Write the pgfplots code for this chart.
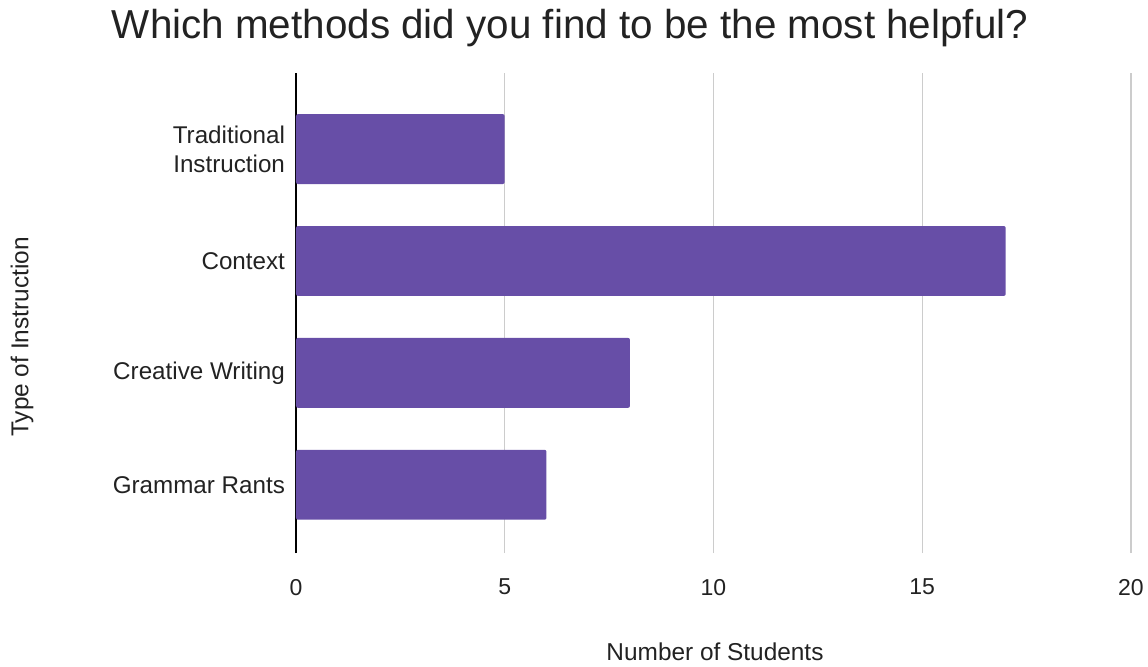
\documentclass[border=0pt]{standalone}
\usepackage{pgfplots}
\pgfplotsset{compat=1.18}
\usepackage{fontspec}
\setmainfont{Liberation Sans}
\definecolor{barpurple}{HTML}{674EA7}
\definecolor{txt}{HTML}{222222}
\definecolor{gridc}{HTML}{CCCCCC}
\begin{document}
\begin{tikzpicture}
\useasboundingbox (-148pt,-56.5pt) rectangle (426pt,276.5pt);
\begin{axis}[
  at={(0,0)}, anchor=south west,
  scale only axis,
  width=417.5pt, height=240pt,
  xbar, bar width=0.625,
  xmin=0, xmax=20,
  ymin=-0.61, ymax=3.68,
  xtick={0,5,10,15,20},
  ytick={0,1,2,3},
  yticklabels={Grammar Rants, Creative Writing, Context, {Traditional\\Instruction}},
  yticklabel style={align=right, font=\fontsize{12.1}{14.5}\selectfont, text=txt, xshift=-2pt},
  xticklabel style={font=\fontsize{11.5}{14}\selectfont, text=txt, yshift=-9.5pt},
  /pgf/number format/assume math mode=true,
  xmajorgrids, grid style={gridc, line width=0.6pt},
  axis x line*=bottom,
  x axis line style={draw=none},
  axis y line*=left,
  y axis line style={black, line width=0.7pt, -},
  major tick length=0pt,
  clip=false,
]
\addplot[fill=barpurple, draw=none, rounded corners=1pt] coordinates {(6,0) (8,1) (17,2) (5,3)};
\end{axis}
\node[text=txt, font=\fontsize{20.2}{24}\selectfont] at (137pt,262.5pt) {Which methods did you find to be the most helpful?};
\node[text=txt, font=\fontsize{12.2}{14}\selectfont] at (209.5pt,-49.5pt) {Number of Students};
\node[text=txt, font=\fontsize{12.2}{14}\selectfont, rotate=90] at (-137pt,108pt) {Type of Instruction};
\end{tikzpicture}
\end{document}
